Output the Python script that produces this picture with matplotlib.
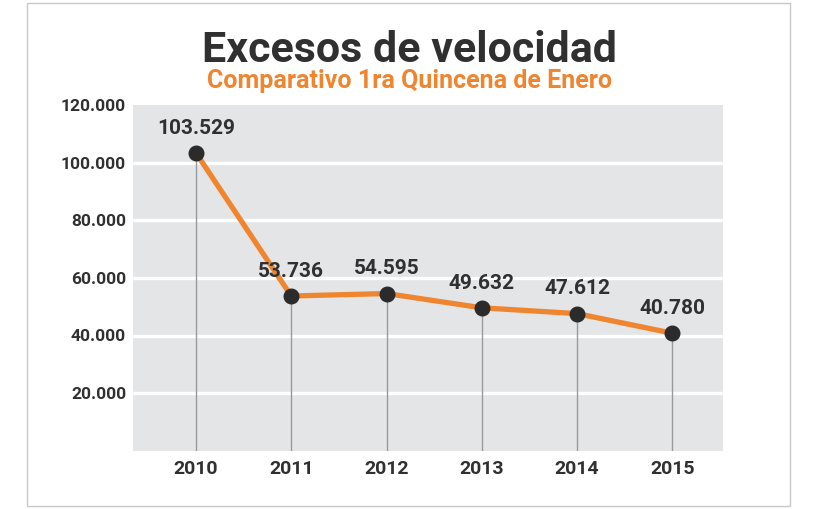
"""Excesos de velocidad: comparativo 1ra quincena de enero, 2010-2015."""

import matplotlib

matplotlib.use("Agg")
import matplotlib.pyplot as plt
from matplotlib.patches import Rectangle

years = [2010, 2011, 2012, 2013, 2014, 2015]
excesos = [103529, 53736, 54595, 49632, 47612, 40780]
value_labels = ["103.529", "53.736", "54.595", "49.632", "47.612", "40.780"]
y_ticks = [20000, 40000, 60000, 80000, 100000, 120000]
y_tick_labels = ["20.000", "40.000", "60.000", "80.000", "100.000", "120.000"]

ORANGE = "#f0852f"
DARK = "#303030"
PANEL = "#e4e5e6"

plt.rcParams["font.family"] = ["Roboto", "DejaVu Sans"]

fig = plt.figure(figsize=(8.18, 5.09), dpi=100)
fig.patch.set_facecolor("white")

# outer frame
fig.add_artist(Rectangle((27 / 818, 1 - 506 / 509), 763 / 818, 503 / 509,
                         transform=fig.transFigure, fill=False,
                         edgecolor="#c8c8c8", linewidth=1))

ax = fig.add_axes([133 / 818, 1 - 450.5 / 509, 590 / 818, 345 / 509])
ax.set_facecolor(PANEL)
for s in ax.spines.values():
    s.set_visible(False)

ax.set_xlim(2009.34, 2015.53)
ax.set_ylim(0, 120000)

for y in y_ticks[:-1]:
    ax.axhline(y, color="white", linewidth=2.4, zorder=1)

ax.vlines(years, 0, excesos, color="#9a9a9a", linewidth=1, zorder=2)
ax.plot(years, excesos, color=ORANGE, linewidth=3.8, zorder=3,
        solid_capstyle="round")
ax.plot(years, excesos, linestyle="none", marker="o", markersize=10.5,
        color="#2b2b2b", zorder=4)

for x, y, lab in zip(years, excesos, value_labels):
    ax.annotate(lab, (x, y), xytext=(0, 11), textcoords="offset points",
                ha="center", va="bottom", fontsize=15, fontweight="bold",
                color=DARK, zorder=5)

ax.set_yticks(y_ticks)
ax.set_yticklabels(y_tick_labels, fontsize=12.5, fontweight="bold", color=DARK)
ax.set_xticks(years)
ax.set_xticklabels([str(y) for y in years], fontsize=14, fontweight="bold",
                   color=DARK)
ax.tick_params(length=0)
ax.tick_params(axis="y", pad=5)
ax.tick_params(axis="x", pad=7)

fig.text(410 / 818, 1 - 50 / 509, "Excesos de velocidad", ha="center",
         va="center", fontsize=31, fontweight="bold", color=DARK)
fig.text(410 / 818, 1 - 81 / 509, "Comparativo 1ra Quincena de Enero",
         ha="center", va="center", fontsize=18, fontweight="bold", color=ORANGE)

fig.savefig("out.png", dpi=100)
